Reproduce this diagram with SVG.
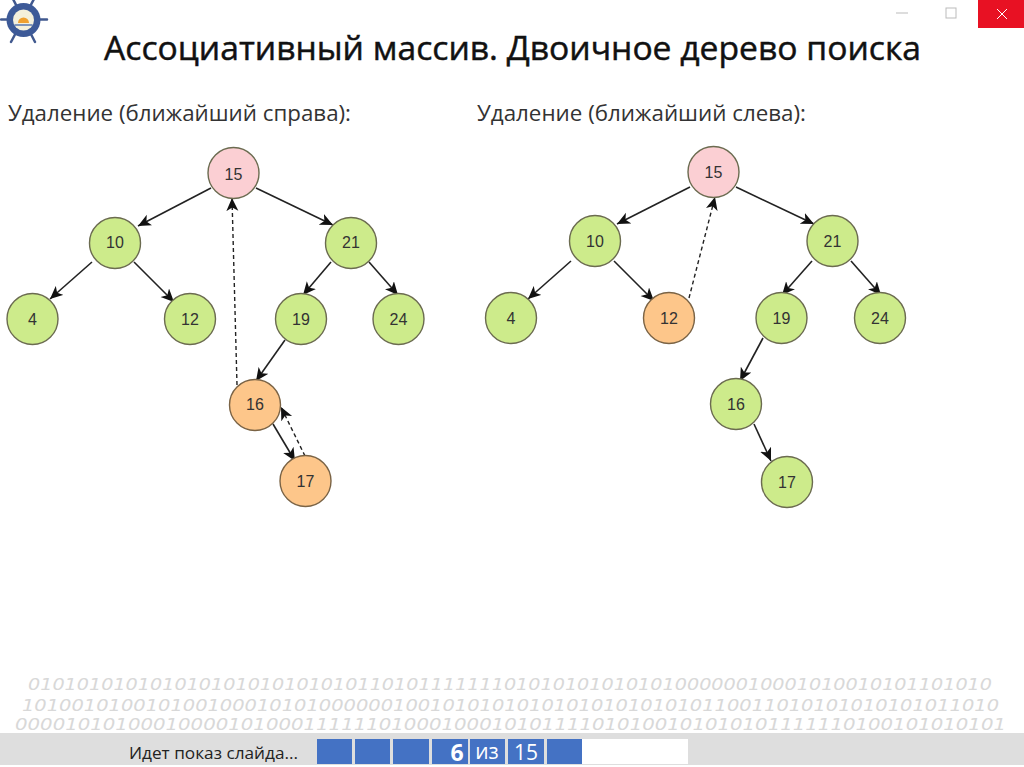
<svg xmlns="http://www.w3.org/2000/svg" width="1024" height="767" viewBox="0 0 1024 767">
<style>
.t{font-family:"Open Sans","Liberation Sans",sans-serif;fill:#222}
.h{font-size:32px;fill:#111;stroke:#111;stroke-width:.45}
.s{font-size:21px;fill:#333}
.n{stroke:#6b6b50;stroke-width:1.4}
.g{fill:#cdeb8b}
.o{fill:#fdc68a;stroke:#7a6345}
.p{fill:#fbcfd3}
.l{font-family:"Liberation Sans",Arial,sans-serif;font-size:16px;fill:#333;text-anchor:middle}
.c{fill:none;stroke:#222;stroke-width:1.6;marker-end:url(#a)}
.d{fill:none;stroke:#222;stroke-width:1.4;stroke-dasharray:4 3;marker-end:url(#a)}
.b{font-family:"DejaVu Sans",sans-serif;font-style:italic;font-size:15px;fill:#d8d8d8}
.u{fill:#4472c4}
.w{font-family:"Open Sans",sans-serif;fill:#fff;text-anchor:middle}
</style>
<defs>
<marker id="a" markerUnits="userSpaceOnUse" markerWidth="15" markerHeight="13" refX="13" refY="6" orient="auto"><path d="M0 0L13 6L0 12L3.500 6Z" fill="#111"/></marker>
</defs>
<rect width="1024" height="767" fill="#fff"/>
<g id="logo">
<g stroke="#41598f" stroke-width="2.500" stroke-linecap="round"><path d="M1 19.500H47M13 -1L35 42M34 -1L11 42"/></g>
<circle cx="23.500" cy="20" r="17" fill="#3d5a98"/>
<circle cx="23.500" cy="20" r="10.500" fill="#f4f0dc"/>
<path d="M18 23a5.500 5.500 0 0 1 11 0Z" fill="#f0a030"/>
<path d="M14.500 25H32.500" stroke="#5a78b0" stroke-width="1.500"/>
</g>
<g id="window">
<path d="M896 13H908" stroke="#bbb" stroke-width="1"/>
<rect x="946" y="8" width="10" height="10" fill="none" stroke="#bbb"/>
<rect x="978" y="0" width="46" height="28" fill="#e81123"/>
<path d="M997 9L1007 19M1007 9L997 19" stroke="#fff" stroke-width="1"/>
</g>
<text id="title" class="t h" x="104" y="60" textLength="817" lengthAdjust="spacingAndGlyphs">Ассоциативный массив. Двоичное дерево поиска</text>
<text id="left-caption" class="t s" x="8" y="121" textLength="343" lengthAdjust="spacingAndGlyphs">Удаление (ближайший справа):</text>
<text id="right-caption" class="t s" x="477" y="121" textLength="329" lengthAdjust="spacingAndGlyphs">Удаление (ближайший слева):</text>
<g id="connectors">
<path class="c" d="M211 188L138 226"/>
<path class="c" d="M256 188L333 225"/>
<path class="c" d="M92 262L50 299"/>
<path class="c" d="M134 262L174 302"/>
<path class="c" d="M331 262L303 295"/>
<path class="c" d="M369 262L398 295"/>
<path class="c" d="M285 340L256 381"/>
<path class="c" d="M273 424L295 461"/>
<path class="d" d="M237 385L232 198"/>
<path class="d" d="M305 456L281 407"/>
<path class="c" d="M690 187L617 224"/>
<path class="c" d="M736 187L814 224"/>
<path class="c" d="M571 261L528 299"/>
<path class="c" d="M614 261L654 301"/>
<path class="c" d="M812 261L782 295"/>
<path class="c" d="M851 261L881 295"/>
<path class="c" d="M763 338L740 381"/>
<path class="c" d="M754 424L771 461"/>
<path class="d" d="M689 298L715 197"/>
</g>
<g id="n15a"><circle class="n p" cx="233.500" cy="173" r="25.500"/><text class="l" x="233.500" y="180">15</text></g>
<g id="n10a"><circle class="n g" cx="115" cy="243" r="25.500"/><text class="l" x="115" y="248">10</text></g>
<g id="n21a"><circle class="n g" cx="351" cy="243" r="25.500"/><text class="l" x="351" y="248">21</text></g>
<g id="n4a"><circle class="n g" cx="32.500" cy="319" r="25.500"/><text class="l" x="32.500" y="325">4</text></g>
<g id="n12a"><circle class="n g" cx="190" cy="319" r="25.500"/><text class="l" x="190" y="325">12</text></g>
<g id="n19a"><circle class="n g" cx="301" cy="319" r="25.500"/><text class="l" x="301" y="325">19</text></g>
<g id="n24a"><circle class="n g" cx="398.500" cy="319" r="25.500"/><text class="l" x="398.500" y="325">24</text></g>
<g id="n16a"><circle class="n o" cx="255" cy="405" r="25.500"/><text class="l" x="255" y="410">16</text></g>
<g id="n17a"><circle class="n o" cx="305.500" cy="481" r="25.500"/><text class="l" x="305.500" y="487">17</text></g>
<g id="n15b"><circle class="n p" cx="713.500" cy="172" r="25.500"/><text class="l" x="713.500" y="178">15</text></g>
<g id="n10b"><circle class="n g" cx="595" cy="241" r="25.500"/><text class="l" x="595" y="247">10</text></g>
<g id="n21b"><circle class="n g" cx="832.500" cy="241" r="25.500"/><text class="l" x="832.500" y="247">21</text></g>
<g id="n4b"><circle class="n g" cx="511" cy="318" r="25.500"/><text class="l" x="511" y="324">4</text></g>
<g id="n12b"><circle class="n o" cx="669" cy="318" r="25.500"/><text class="l" x="669" y="324">12</text></g>
<g id="n19b"><circle class="n g" cx="781.500" cy="318" r="25.500"/><text class="l" x="781.500" y="324">19</text></g>
<g id="n24b"><circle class="n g" cx="880" cy="318" r="25.500"/><text class="l" x="880" y="324">24</text></g>
<g id="n16b"><circle class="n g" cx="736" cy="404" r="25.500"/><text class="l" x="736" y="410">16</text></g>
<g id="n17b"><circle class="n g" cx="787" cy="482" r="25.500"/><text class="l" x="787" y="488">17</text></g>
<g id="binary">
<text class="b" x="28" y="690" textLength="964" lengthAdjust="spacingAndGlyphs">0101010101010101010101010101101011111110101010101010100000010001010010101101010</text>
<text class="b" x="22" y="711" textLength="977" lengthAdjust="spacingAndGlyphs">1010010100101001000101010000001001010101010101010101010110011010101010101011010</text>
<text class="b" x="15" y="730" textLength="991" lengthAdjust="spacingAndGlyphs">0000101010001000010100011111101000100010101111010100101010101111110100101010101</text>
</g>
<g id="statusbar">
<rect x="0" y="733" width="1024" height="32" fill="#dedede"/>
<text class="t" x="129" y="759" font-size="17" textLength="169" lengthAdjust="spacingAndGlyphs">Идет показ слайда...</text>
<rect class="u" x="317" y="739" width="35" height="25"/>
<rect class="u" x="355" y="739" width="35" height="25"/>
<rect class="u" x="393" y="739" width="36" height="25"/>
<rect class="u" x="432" y="739" width="36" height="25"/>
<rect class="u" x="470" y="739" width="35" height="25"/>
<rect class="u" x="508" y="739" width="36" height="25"/>
<rect class="u" x="547" y="739" width="35" height="25"/>
<rect x="582" y="739" width="106" height="25" fill="#fff"/>
<text class="w" x="457" y="761" font-size="23" font-weight="700">6</text>
<text class="w" x="487" y="759" font-size="21">из</text>
<text class="w" x="526" y="760" font-size="21">15</text>
</g>
</svg>
